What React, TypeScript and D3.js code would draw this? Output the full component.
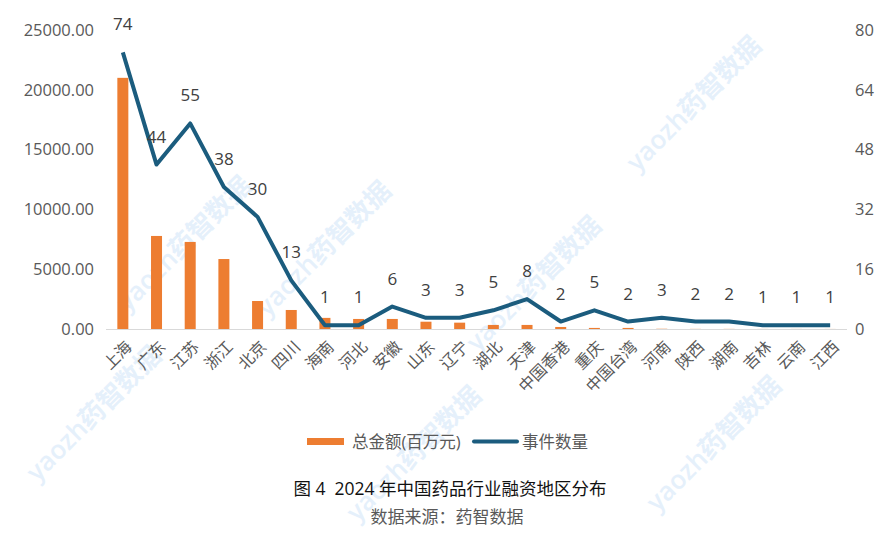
import React, { useEffect, useRef } from "react";
import * as d3 from "d3";

const regions = [
  "上海", "广东", "江苏", "浙江", "北京", "四川", "海南", "河北", "安徽", "山东", "辽宁",
  "湖北", "天津", "中国香港", "重庆", "中国台湾", "河南", "陕西", "湖南", "吉林", "云南", "江西",
];
// 总金额(百万元)
const amounts = [
  21000, 7780, 7280, 5850, 2340, 1590, 930, 840, 840, 610, 530,
  340, 340, 170, 90, 90, 20, 10, 10, 5, 5, 5,
];
// 事件数量
const counts = [74, 44, 55, 38, 30, 13, 1, 1, 6, 3, 3, 5, 8, 2, 5, 2, 3, 2, 2, 1, 1, 1];
const leftTicks = [0, 5000, 10000, 15000, 20000, 25000];
const rightTicks = [0, 16, 32, 48, 64, 80];

const W = 893;
const H = 547;
const FONT = "'Open Sans', 'Noto Sans CJK SC', sans-serif";

const App: React.FC = () => {
  const svgRef = useRef<SVGSVGElement | null>(null);

  useEffect(() => {
    if (!svgRef.current) return;
    const svg = d3.select(svgRef.current);
    svg.selectAll("*").remove();

    const plot = { left: 106, right: 847, top: 30, bottom: 329 };

    const x = d3.scaleBand().domain(regions).range([plot.left, plot.right]);
    const yL = d3.scaleLinear().domain([0, 25000]).range([plot.bottom, plot.top]);
    const yR = d3.scaleLinear().domain([0, 80]).range([plot.bottom, plot.top]);
    const cx = (d: string) => (x(d) || 0) + x.bandwidth() / 2;

    // watermarks (faint, kept inside the canvas)
    const marks = [
      [700, 110], [330, 255], [190, 250], [540, 290], [720, 450], [420, 460], [100, 420],
    ];
    svg.append("g")
      .selectAll("text")
      .data(marks)
      .join("text")
      .attr("transform", (d) => `translate(${d[0]},${d[1]}) rotate(-45)`)
      .attr("text-anchor", "middle")
      .attr("font-family", FONT)
      .attr("font-size", 26)
      .attr("font-weight", 600)
      .attr("fill", "#c6e0f8")
      .attr("opacity", 0.45)
      .text("yaozh药智数据");

    // bars
    svg.append("g")
      .selectAll("rect")
      .data(regions)
      .join("rect")
      .attr("x", (d) => cx(d) - 5.5)
      .attr("width", 11)
      .attr("y", (d, i) => yL(amounts[i]))
      .attr("height", (d, i) => plot.bottom - yL(amounts[i]))
      .attr("fill", "#ED7D31");

    // baseline
    svg.append("line")
      .attr("x1", plot.left)
      .attr("x2", plot.right)
      .attr("y1", plot.bottom + 0.5)
      .attr("y2", plot.bottom + 0.5)
      .attr("stroke", "#d9d9d9")
      .attr("stroke-width", 1);

    // line
    const line = d3
      .line<number>()
      .x((d, i) => cx(regions[i]))
      .y((d) => yR(d));
    svg.append("path")
      .datum(counts)
      .attr("d", line)
      .attr("fill", "none")
      .attr("stroke", "#1B5C7E")
      .attr("stroke-width", 4)
      .attr("stroke-linejoin", "round");

    // data labels
    svg.append("g")
      .selectAll("text")
      .data(counts)
      .join("text")
      .attr("x", (d, i) => cx(regions[i]))
      .attr("y", (d) => yR(d) - 22)
      .attr("text-anchor", "middle")
      .attr("font-family", FONT)
      .attr("font-size", 17)
      .attr("fill", "#404040")
      .text((d) => d);

    // left axis
    svg.append("g")
      .selectAll("text")
      .data(leftTicks)
      .join("text")
      .attr("x", 94)
      .attr("y", (d) => yL(d))
      .attr("dy", "0.35em")
      .attr("text-anchor", "end")
      .attr("font-family", FONT)
      .attr("font-size", 16.5)
      .attr("fill", "#595959")
      .text((d) => d3.format(".2f")(d));

    // right axis
    svg.append("g")
      .selectAll("text")
      .data(rightTicks)
      .join("text")
      .attr("x", 855)
      .attr("y", (d) => yR(d))
      .attr("dy", "0.35em")
      .attr("text-anchor", "start")
      .attr("font-family", FONT)
      .attr("font-size", 16.5)
      .attr("fill", "#595959")
      .text((d) => d);

    // x labels
    svg.append("g")
      .selectAll("text")
      .data(regions)
      .join("text")
      .attr("transform", (d) => `translate(${cx(d) + 6},${plot.bottom + 15}) rotate(-45)`)
      .attr("text-anchor", "end")
      .attr("dy", "0.35em")
      .attr("font-family", FONT)
      .attr("font-size", 16)
      .attr("fill", "#595959")
      .text((d) => d);

    // legend
    const lg = svg.append("g").attr("font-family", FONT).attr("font-size", 16.5).attr("fill", "#595959");
    lg.append("rect").attr("x", 307).attr("y", 438).attr("width", 37).attr("height", 7).attr("fill", "#ED7D31");
    lg.append("text").attr("x", 352).attr("y", 442).attr("dy", "0.35em").text("总金额(百万元)");
    lg.append("line")
      .attr("x1", 474).attr("x2", 517).attr("y1", 441.5).attr("y2", 441.5)
      .attr("stroke", "#1B5C7E").attr("stroke-width", 4).attr("stroke-linecap", "round");
    lg.append("text").attr("x", 522).attr("y", 442).attr("dy", "0.35em").text("事件数量");

    // title & source
    svg.append("text")
      .attr("x", 450).attr("y", 489).attr("dy", "0.35em")
      .attr("text-anchor", "middle")
      .attr("font-family", FONT).attr("font-size", 17.5).attr("fill", "#111")
      .attr("xml:space", "preserve")
      .text("图 4  2024 年中国药品行业融资地区分布");
    svg.append("text")
      .attr("x", 447).attr("y", 517).attr("dy", "0.35em")
      .attr("text-anchor", "middle")
      .attr("font-family", FONT).attr("font-size", 17).attr("fill", "#595959")
      .text("数据来源：药智数据");
  }, []);

  return (
    <svg
      ref={svgRef}
      width={W}
      height={H}
      style={{ position: "absolute", left: 0, top: 0, background: "#fff" }}
    />
  );
};

export default App;
